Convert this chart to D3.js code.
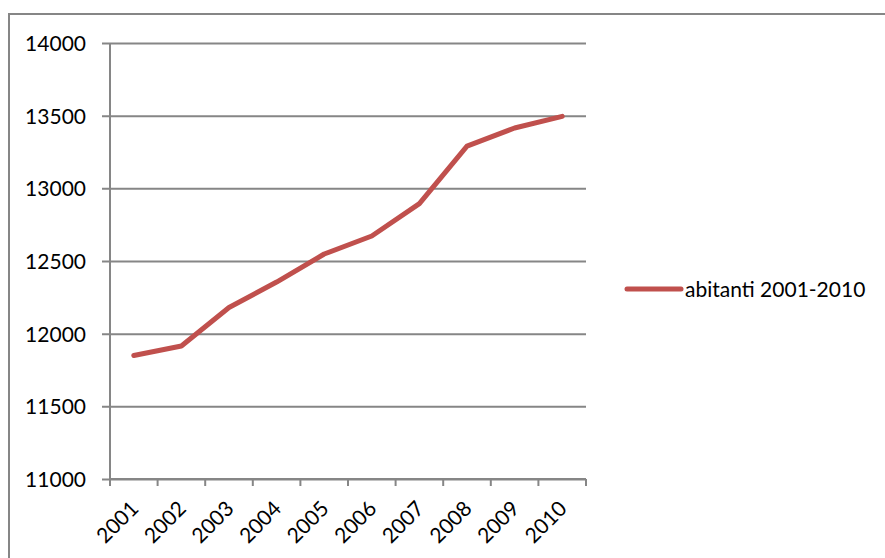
<!DOCTYPE html>
<html>
<head>
<meta charset="utf-8">
<script src="https://cdn.jsdelivr.net/npm/d3@7"></script>
<style>
  html, body { margin: 0; padding: 0; background: #fff; }
  svg { display: block; }
  text { font-family: Lato, "Open Sans", sans-serif; fill: #000; }
</style>
</head>
<body>
<script>
// Residents per year, 2001-2010
const years = ["2001", "2002", "2003", "2004", "2005", "2006", "2007", "2008", "2009", "2010"];
const abitanti = [11850, 11915, 12180, 12355, 12548, 12672, 12895, 13290, 13415, 13495];
const yTicks = [11000, 11500, 12000, 12500, 13000, 13500, 14000];
const seriesName = "abitanti 2001-2010";

const W = 885, H = 558;
const plot = { left: 110, right: 586, top: 43, bottom: 479 };
const lineColor = "#C0504D";
const axisColor = "#868686";
const fontSize = 21;

const svg = d3.select("body").append("svg").attr("width", W).attr("height", H);

// Chart frame (left and top edges visible)
svg.append("path")
  .attr("d", `M9,${H + 5} L9,14 L${W + 5},14`)
  .attr("fill", "none").attr("stroke", axisColor).attr("stroke-width", 2);

const x = d3.scaleBand().domain(years).range([plot.left, plot.right]).padding(0);
const y = d3.scaleLinear().domain([11000, 14000]).range([plot.bottom, plot.top]);

// Horizontal gridlines with short outer tick marks
const yAxis = d3.axisLeft(y).tickValues(yTicks).tickSize(-(plot.right - plot.left + 8)).tickPadding(16).tickFormat(d3.format("d"));
const gy = svg.append("g").attr("transform", `translate(${plot.left - 8},0)`).call(yAxis);
gy.select(".domain").remove();
gy.selectAll(".tick line").attr("stroke", axisColor).attr("stroke-width", 2);
gy.selectAll(".tick text").attr("font-size", fontSize).attr("text-anchor", "end").attr("x", -16).attr("dy", "0.36em");

// Vertical axis line
svg.append("line")
  .attr("x1", plot.left).attr("x2", plot.left)
  .attr("y1", plot.top).attr("y2", plot.bottom)
  .attr("stroke", axisColor).attr("stroke-width", 2);

// Category axis with ticks at category boundaries
const bounds = years.map(d => x(d)).concat([x(years[years.length - 1]) + x.bandwidth()]);
const gx = svg.append("g");
gx.append("line")
  .attr("x1", plot.left).attr("x2", plot.right)
  .attr("y1", plot.bottom).attr("y2", plot.bottom)
  .attr("stroke", axisColor).attr("stroke-width", 2);
gx.selectAll("line.tk").data(bounds).join("line").attr("class", "tk")
  .attr("x1", d => d).attr("x2", d => d)
  .attr("y1", plot.bottom).attr("y2", plot.bottom + 7)
  .attr("stroke", axisColor).attr("stroke-width", 2);
gx.selectAll("text").data(years).join("text")
  .attr("font-size", fontSize)
  .attr("text-anchor", "end")
  .attr("transform", d => `translate(${x(d) + x.bandwidth() / 2 + 6},${plot.bottom + 31}) rotate(-45)`)
  .text(d => d);

// Series line
const line = d3.line()
  .x((d, i) => x(years[i]) + x.bandwidth() / 2)
  .y(d => y(d));
svg.append("path")
  .datum(abitanti)
  .attr("d", line)
  .attr("fill", "none")
  .attr("stroke", lineColor)
  .attr("stroke-width", 5)
  .attr("stroke-linecap", "round")
  .attr("stroke-linejoin", "round");

// Legend
const lg = svg.append("g").attr("transform", "translate(627,289)");
lg.append("line").attr("x1", 0).attr("x2", 54).attr("y1", 0).attr("y2", 0)
  .attr("stroke", lineColor).attr("stroke-width", 5).attr("stroke-linecap", "round");
lg.append("text").attr("x", 58).attr("y", 0).attr("dy", "0.36em")
  .attr("font-size", fontSize).text(seriesName);
</script>
</body>
</html>
